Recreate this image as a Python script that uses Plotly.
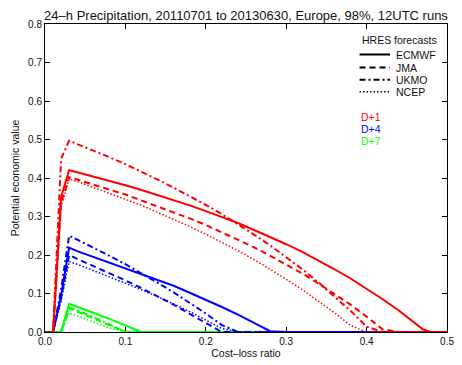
import plotly.graph_objects as go

# Cost-loss ratios at which the value curves are evaluated
cost_loss = [0.00, 0.01, 0.02, 0.03, 0.04, 0.06, 0.08, 0.10, 0.12, 0.14, 0.16, 0.18,
             0.20, 0.22, 0.24, 0.26, 0.28, 0.30, 0.32, 0.34, 0.36, 0.38, 0.40, 0.42,
             0.44, 0.46, 0.47, 0.48, 0.50]

# Potential economic value, D+1
d1_ecmwf = [0, 0, 0.350, 0.420, 0.415, 0.404, 0.393, 0.381, 0.369, 0.356, 0.343, 0.329,
            0.314, 0.299, 0.283, 0.265, 0.247, 0.228, 0.208, 0.186, 0.163, 0.139, 0.113, 0.085,
            0.056, 0.024, 0.007, 0, 0]
d1_jma = [0, 0, 0.335, 0.402, 0.396, 0.384, 0.370, 0.357, 0.342, 0.327, 0.311, 0.295,
          0.278, 0.259, 0.240, 0.220, 0.198, 0.176, 0.152, 0.126, 0.099, 0.071, 0.040, 0.007,
          0, 0, 0, 0, 0]
d1_ukmo = [0, 0, 0.450, 0.497, 0.488, 0.472, 0.454, 0.436, 0.417, 0.396, 0.375, 0.353,
           0.330, 0.306, 0.280, 0.253, 0.225, 0.195, 0.163, 0.129, 0.093, 0.055, 0.014, 0,
           0, 0, 0, 0, 0]
d1_ncep = [0, 0, 0.325, 0.398, 0.391, 0.376, 0.361, 0.345, 0.329, 0.311, 0.293, 0.274,
           0.254, 0.233, 0.211, 0.188, 0.163, 0.137, 0.110, 0.081, 0.050, 0.017, 0, 0,
           0, 0, 0, 0, 0]

# Potential economic value, D+4
d4_ecmwf = [0, 0, 0.095, 0.219, 0.210, 0.195, 0.181, 0.167, 0.152, 0.136, 0.120, 0.102,
            0.084, 0.065, 0.045, 0.024, 0.002, 0, 0, 0, 0, 0, 0, 0,
            0, 0, 0, 0, 0]
d4_jma = [0, 0, 0.088, 0.200, 0.190, 0.172, 0.153, 0.134, 0.114, 0.093, 0.071, 0.047,
          0.023, 0, 0, 0, 0, 0, 0, 0, 0, 0, 0, 0,
          0, 0, 0, 0, 0]
d4_ukmo = [0, 0, 0.110, 0.250, 0.240, 0.220, 0.198, 0.176, 0.153, 0.128, 0.103, 0.076,
           0.048, 0.018, 0, 0, 0, 0, 0, 0, 0, 0, 0, 0,
           0, 0, 0, 0, 0]
d4_ncep = [0, 0, 0.080, 0.183, 0.176, 0.160, 0.144, 0.128, 0.110, 0.092, 0.073, 0.053,
           0.031, 0.009, 0, 0, 0, 0, 0, 0, 0, 0, 0, 0,
           0, 0, 0, 0, 0]

# Potential economic value, D+7
d7_ecmwf = [0, 0, 0, 0.073, 0.066, 0.050, 0.034, 0.0175, 0, 0, 0, 0,
            0, 0, 0, 0, 0, 0, 0, 0, 0, 0, 0, 0,
            0, 0, 0, 0, 0]
d7_jma = [0, 0, 0, 0.062, 0.053, 0.036, 0.017, 0, 0, 0, 0, 0,
          0, 0, 0, 0, 0, 0, 0, 0, 0, 0, 0, 0,
          0, 0, 0, 0, 0]
d7_ukmo = [0, 0, 0, 0.065, 0.057, 0.039, 0.020, 0, 0, 0, 0, 0,
           0, 0, 0, 0, 0, 0, 0, 0, 0, 0, 0, 0,
           0, 0, 0, 0, 0]
d7_ncep = [0, 0, 0, 0.050, 0.042, 0.027, 0.010, 0, 0, 0, 0, 0,
           0, 0, 0, 0, 0, 0, 0, 0, 0, 0, 0, 0,
           0, 0, 0, 0, 0]

models = ["ECMWF", "JMA", "UKMO", "NCEP"]
lead_labels = ["D+1", "D+4", "D+7"]
lead_colors = {"D+1": "#ff0000", "D+4": "#0000ff", "D+7": "#00ff00"}
series = {
    "D+1": [d1_ecmwf, d1_jma, d1_ukmo, d1_ncep],
    "D+4": [d4_ecmwf, d4_jma, d4_ukmo, d4_ncep],
    "D+7": [d7_ecmwf, d7_jma, d7_ukmo, d7_ncep],
}
model_dash = {"ECMWF": "solid", "JMA": "6px,4px", "UKMO": "6px,3px,2px,3px", "NCEP": "1.5px,2px"}
model_width = {"ECMWF": 2, "JMA": 2, "UKMO": 2, "NCEP": 1.5}

FONT = "Liberation Sans, Arial, Helvetica, sans-serif"
W, H = 462, 365
L, R, T, B = 45, 8, 24, 33

fig = go.Figure()

# Longest lead first so the D+1 curves sit on top
for lead in reversed(lead_labels):
    for model, vals in zip(models, series[lead]):
        fig.add_trace(go.Scatter(
            x=cost_loss, y=vals, mode="lines", name=f"{model} {lead}",
            line=dict(color=lead_colors[lead], width=model_width[model], dash=model_dash[model]),
            cliponaxis=False, showlegend=False, hoverinfo="skip",
        ))


def px_x(p):
    return (p - L) / (W - L - R)


def px_y(p):
    return (H - B - p) / (H - T - B)


shapes = []
annotations = []

# Legend block: header, line samples, model names, lead-time labels
annotations.append(dict(text="HRES forecasts", x=px_x(365), y=px_y(39.5), xref="paper", yref="paper",
                        xanchor="left", yanchor="middle", showarrow=False,
                        font=dict(family=FONT, size=10.5, color="#111")))
legend_rows = [54.5, 67.5, 79.8, 91.8]
for model, ypx in zip(models, legend_rows):
    shapes.append(dict(type="line", xref="paper", yref="paper",
                       x0=px_x(365), x1=px_x(396), y0=px_y(ypx), y1=px_y(ypx),
                       line=dict(color="black", width=model_width[model], dash=model_dash[model])))
    annotations.append(dict(text=model, x=px_x(400), y=px_y(ypx), xref="paper", yref="paper",
                            xanchor="left", yanchor="middle", showarrow=False,
                            font=dict(family=FONT, size=10.5, color="#111")))
for lead, ypx in zip(lead_labels, [116.7, 129, 140.5]):
    annotations.append(dict(text=lead, x=px_x(364), y=px_y(ypx), xref="paper", yref="paper",
                            xanchor="left", yanchor="middle", showarrow=False,
                            font=dict(family=FONT, size=10.5, color=lead_colors[lead])))

fig.update_layout(
    width=W, height=H,
    margin=dict(l=L, r=R, t=T, b=B, pad=0),
    paper_bgcolor="white", plot_bgcolor="white",
    font=dict(family=FONT, size=10, color="#111"),
    title=dict(text="24\u2013h Precipitation, 20110701 to 20130630, Europe, 98%, 12UTC runs",
               x=px_x(249.5), xref="paper", xanchor="center",
               y=1 - 15 / H, yref="container", yanchor="middle",
               font=dict(family=FONT, size=13, color="#111")),
    shapes=shapes,
    annotations=annotations,
)

fig.update_xaxes(
    range=[0, 0.5], dtick=0.1, tick0=0, tickformat=".1f",
    showgrid=False, zeroline=False,
    showline=True, linecolor="black", linewidth=1, mirror="allticks",
    ticks="inside", ticklen=5, tickcolor="black", tickwidth=1,
    tickfont=dict(family=FONT, size=10, color="#111"),
    title=dict(text="Cost\u2013loss ratio", standoff=1, font=dict(family=FONT, size=10.5, color="#111")),
    layer="below traces",
)
fig.update_yaxes(
    range=[0, 0.8], dtick=0.1, tick0=0, tickformat=".1f",
    showgrid=False, zeroline=False,
    showline=True, linecolor="black", linewidth=1, mirror="allticks",
    ticks="inside", ticklen=5, tickcolor="black", tickwidth=1,
    tickfont=dict(family=FONT, size=10, color="#111"),
    title=dict(text="Potential economic value", standoff=6, font=dict(family=FONT, size=10.5, color="#111")),
    layer="below traces",
)

fig.write_html("out.html")
